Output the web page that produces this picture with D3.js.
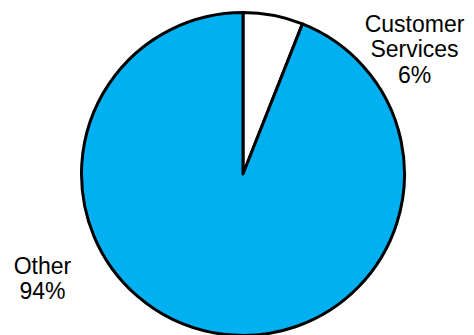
<!DOCTYPE html>
<html>
<head>
<meta charset="utf-8">
<script src="https://cdn.jsdelivr.net/npm/d3@7"></script>
<style>
  html, body { margin: 0; padding: 0; background: #fff; }
  svg { display: block; }
</style>
</head>
<body>
<svg id="chart" width="474" height="335"></svg>
<script>
// Share of total by segment
const categories = ["Customer Services", "Other"];
const values = [6, 94];
const labelLines = [["Customer", "Services", "6%"], ["Other", "94%"]];
const fills = ["#FFFFFF", "#00B0F0"];

const svg = d3.select("#chart");
const cx = 243, cy = 174, r = 161.5;

const pie = d3.pie().sort(null).value(d => d)(values);
const arc = d3.arc().innerRadius(0).outerRadius(r);

const g = svg.append("g").attr("transform", `translate(${cx},${cy})`);

g.selectAll("path")
  .data(pie)
  .join("path")
  .attr("d", arc)
  .attr("fill", (d, i) => fills[i])
  .attr("stroke", "#000")
  .attr("stroke-width", 3)
  .attr("stroke-linejoin", "round");

// Labels placed outside their slices
const labelPos = [[414.5, 31.5], [42.5, 273.5]];
const lineH = 25.7;
labelLines.forEach((lines, i) => {
  const t = svg.append("text")
    .attr("text-anchor", "middle")
    .attr("font-family", "Liberation Sans, Arial, sans-serif")
    .attr("font-size", 23)
    .attr("fill", "#000");
  lines.forEach((s, j) => {
    t.append("tspan")
      .attr("x", labelPos[i][0])
      .attr("y", labelPos[i][1] + j * lineH)
      .text(s);
  });
});
</script>
</body>
</html>
